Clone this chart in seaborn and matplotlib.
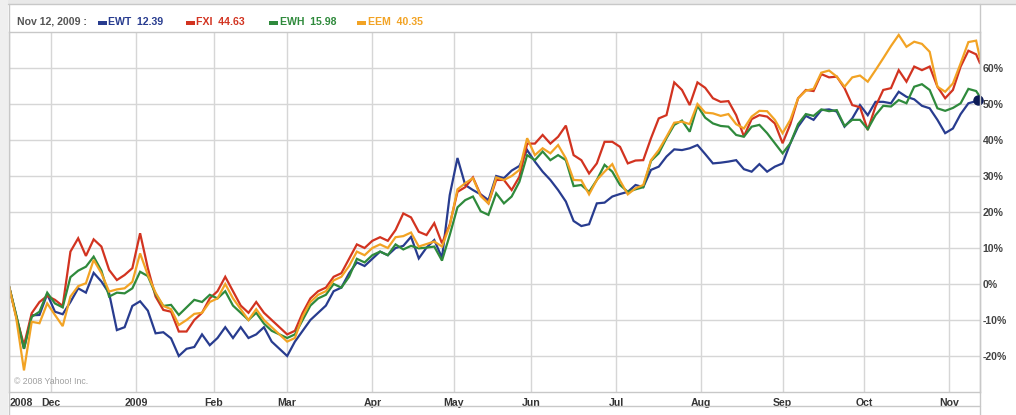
import numpy as np
import pandas as pd
import matplotlib
matplotlib.use("Agg")
import matplotlib.pyplot as plt
import matplotlib.transforms as mtransforms
from matplotlib.lines import Line2D
from matplotlib.patches import Rectangle
import seaborn as sns

# ---------------- data ----------------
# trading-session index (0 = left edge, Nov 2008), sampled every 2 sessions
session = np.r_[np.arange(0, 251, 2), 251]

ewt = [0, -9.0, -18, -8.7, -8.6, -2.8, -7.7, -8.4, -5.0, -1.2, -2.4, 3.1, 0.7, -2.6, -12.8, -12.0, -6.1, -4.8, -7.4, -13.7, -13.4, -15.1, -20.0, -18.0, -17.5,
       -14, -17, -15, -12, -15, -12, -15, -14, -12, -16, -18, -20, -16, -13, -10, -8, -6, -2, -1, 3, 6, 5, 7, 9, 8, 10,
       10.6, 13.1, 7.1, 10.1, 12.2, 7.3, 24.7, 35, 27.5, 26.1, 24.9, 23.3, 30, 29.4, 31.5, 32.8, 37.2, 34, 31.2, 28.9, 26.1, 22.9, 17.5, 16.1, 16.6, 22.4, 22.6, 24.3, 25, 25.6, 27.5, 26.9, 31.7, 32.6, 35.4, 37.4, 37.2, 37.7, 38.6,
       36.1, 33.5, 33.7, 34, 34.4, 31.9, 31.2, 33.3, 31.2, 32.6, 33.5, 39.1, 43.7, 46.7, 45.6, 48.3, 48.5, 47.9, 43.7, 46, 49.7, 46.9, 50.6, 50.6, 50.2, 53.4, 52, 51.3, 49.5, 48.8, 45.6, 41.9, 43.2, 47.2, 50.2, 50.8,
       51.1]
fxi = [0, -9.0, -17, -8.1, -5.0, -3.3, -4.4, -6.1, 9.0, 12.7, 7.8, 12.4, 10.4, 3.9, 1.1, 2.5, 4.4, 14.1, 4.4, -3.5, -7.2, -7.7, -13.2, -13.2, -10.0,
       -8, -4, -2, 2, -2, -6, -8, -5, -8, -10, -12, -14, -13, -8, -4, -2, -1, 2, 3, 7, 11, 10, 12, 13, 12, 15,
       19.6, 18.5, 14.5, 13.6, 16.9, 11.3, 16.5, 25.6, 26.9, 29.6, 24.7, 22.4, 28.9, 28.9, 26.1, 29.8, 39, 39, 41.4, 39, 40.9, 44, 35.8, 34.4, 30.7, 33.5, 39.5, 39.5, 38.1, 33.5, 34.3, 34.4, 40.5, 46, 46.9, 56, 53.9, 49.7, 56,
       54.5, 51.6, 50.6, 50.8, 46.9, 41, 45.8, 46.9, 46.5, 44.6, 39.1, 44.4, 51.6, 53.9, 53.6, 58.3, 57.4, 57.6, 54.4, 49.7, 49.1, 42.8, 49.3, 53.9, 54.4, 59.4, 56.2, 60.4, 59.4, 60.4, 54.8, 51.6, 53.9, 60.4, 64.8, 63.8,
       61.3]
ewh = [0, -8.6, -18, -9.1, -7.7, -2.4, -5.4, -6.5, 1.9, 3.7, 4.8, 7.6, 3.7, -3.5, -2.4, -2.6, -1.2, 3.4, 2.2, -2.8, -6.1, -5.8, -8.6, -6.5, -4.4,
       -5, -3, -4, -2, -6, -8, -10, -8, -11, -13, -14, -15, -14, -10, -6, -4, -3, 0, -1, 2, 7, 6, 8, 9, 8, 11,
       9.6, 10.6, 9.9, 10.1, 10.4, 6.5, 13.6, 21.3, 23.3, 24.3, 20.2, 19.2, 25.2, 22.4, 24.3, 28.4, 35.8, 34.4, 36.8, 34.4, 35.8, 34.4, 27.2, 27.5, 25.6, 28.9, 33.1, 31.2, 27.5, 25.6, 26.3, 26.9, 34.2, 36.3, 40.5, 44.2, 45.4, 42.3, 49.5,
       46.2, 44.6, 43.9, 43.7, 41.4, 40.9, 43.7, 44.2, 41.9, 39.1, 36.3, 39.1, 44.4, 47.2, 46.7, 48.5, 48, 48.3, 43.9, 45.6, 45.6, 43, 46.9, 49.5, 49.3, 51.1, 50.2, 54.8, 55.5, 53.9, 48.8, 48.1, 48.9, 50.2, 54.2, 53.6,
       52]
eem = [0, -9.5, -24, -10.5, -10.9, -5.4, -8.6, -11.7, -3.5, -0.6, 0.2, 6.7, 3.0, -2.1, -1.5, -1.2, 0.6, 8.5, 2.5, -2.4, -6.1, -7.0, -11.4, -10.0, -8.3,
       -8, -5, -4, 0, -4, -7, -10, -7, -10, -12, -14, -16, -15, -9, -5, -3, -2, 1, 2, 5, 9, 8, 10, 11, 10, 13,
       13.3, 14.3, 10.4, 11.1, 11.8, 10.4, 16.2, 26.3, 28, 29.4, 24.4, 22.4, 29.6, 28.9, 30, 31.7, 40.5, 35.8, 37.7, 36.3, 38.6, 34.9, 28.9, 28.8, 24.9, 28.9, 31.2, 33.3, 28.7, 24.9, 26.6, 27.5, 34.4, 37.2, 40.9, 44.8, 45.1, 44.4, 50,
       47.6, 47.4, 46.7, 47.2, 44.4, 43.2, 46.5, 48.1, 48, 45.6, 41.9, 45.6, 51.6, 53.7, 54.2, 58.7, 59.3, 57.6, 54.8, 57.4, 57.9, 56.2, 59.4, 62.7, 66.1, 69.2, 65.9, 67.3, 66.7, 64.5, 54.8, 53.4, 55.7, 61.3, 67.2, 67.6,
       62.7]

tickers = ["EWT", "FXI", "EWH", "EEM"]
last_prices = ["12.39", "44.63", "15.98", "40.35"]
colors = ["#283c8f", "#d23320", "#2f8a3c", "#f2a324"]
header_date = "Nov 12, 2009 :"

month_labels = ["Dec", "2009", "Feb", "Mar", "Apr", "May", "Jun", "Jul", "Aug", "Sep", "Oct", "Nov"]
month_sessions = [11, 33, 53, 72, 94, 115, 135, 157, 179, 200, 221, 243]
start_label = "2008"
y_ticks = [-20, -10, 0, 10, 20, 30, 40, 50, 60]
copyright_text = "© 2008 Yahoo! Inc."

# ---------------- figure ----------------
W, H = 1016, 415
sns.set_theme(style="white")
plt.rcParams["font.family"] = ["Liberation Sans", "DejaVu Sans"]

fig = plt.figure(figsize=(W / 100, H / 100), dpi=100, facecolor="white")

def fx(px):
    return px / W

def fy(py):
    return 1 - py / H

left, right, top, bottom = 8.5, 980, 32, 392
ax = fig.add_axes([fx(left), fy(bottom), fx(right - left), (bottom - top) / H])
ax.set_facecolor("white")

df = pd.DataFrame({
    "session": np.tile(session, len(tickers)),
    "change": np.concatenate([ewt, fxi, ewh, eem]),
    "ticker": np.repeat(tickers, len(session)),
})

sns.lineplot(data=df, x="session", y="change", hue="ticker", hue_order=tickers,
             palette=dict(zip(tickers, colors)), linewidth=1.6, legend=False,
             estimator=None, sort=False, ax=ax)
for ln in ax.lines:
    ln.set_solid_joinstyle("miter")

# end-point marker on EWT
ax.plot([session[-1] - 0.6], [ewt[-1]], marker="o", ms=6.5, color="#0b1a55",
        clip_on=False, zorder=5)

ax.set_xlim(0, 251)
ax.set_ylim(-30, 70)

grid_c = "#d6d6d6"
ax.set_xticks(month_sessions)
ax.set_xticklabels(month_labels, fontsize=7.6, fontweight="bold", color="#333333")
ax.set_yticks(y_ticks)
ax.set_yticklabels([f"{v}%" for v in y_ticks], fontsize=7.6, fontweight="bold", color="#444444")
ax.yaxis.tick_right()
ax.tick_params(axis="x", length=0, pad=4)
ax.tick_params(axis="y", length=0, pad=2)
ax.grid(True, color=grid_c, linewidth=1.0)
ax.set_axisbelow(True)
ax.set_xlabel("")
ax.set_ylabel("")
for sp in ax.spines.values():
    sp.set_color("#c8c8c8")
    sp.set_linewidth(1.0)

# "2008" label at the left edge of the date strip
trans = mtransforms.blended_transform_factory(ax.transAxes, ax.transAxes)
ax.text(0.001, -0.017, start_label, transform=trans, ha="left", va="top",
        fontsize=7.6, fontweight="bold", color="#333333")

# copyright
ax.text(0.006, 0.03, copyright_text, transform=ax.transAxes, ha="left", va="center",
        fontsize=6.3, color="#a0a0a0")

# ---------------- frame decorations ----------------
fig.patches.append(Rectangle((0, fy(4)), 1, 4 / H, transform=fig.transFigure,
                             facecolor="#e9e9e9", edgecolor="none", zorder=0))
fig.patches.append(Rectangle((0, 0), fx(8), 1, transform=fig.transFigure,
                             facecolor="#efefef", edgecolor="none", zorder=0))
frame_c = "#c8c8c8"
fig.lines.append(Line2D([fx(8), 1], [fy(4.5), fy(4.5)], transform=fig.transFigure, color=frame_c, lw=1))
fig.lines.append(Line2D([fx(8.5), fx(8.5)], [0, fy(4.5)], transform=fig.transFigure, color=frame_c, lw=1))
fig.lines.append(Line2D([fx(980), fx(980)], [0, fy(4.5)], transform=fig.transFigure, color=frame_c, lw=1))
fig.lines.append(Line2D([fx(8.5), fx(980)], [fy(406), fy(406)], transform=fig.transFigure, color=frame_c, lw=1))

# ---------------- header legend ----------------
hy = fy(22)
fig.text(fx(17), hy, header_date, ha="left", va="center", fontsize=7.6,
         fontweight="bold", color="#555555")
legend_x = [98, 186, 269, 357]
for x0, t, p, c in zip(legend_x, tickers, last_prices, colors):
    fig.patches.append(Rectangle((fx(x0), fy(25)), fx(9), 3.5 / H, transform=fig.transFigure,
                                 facecolor=c, edgecolor="none"))
    fig.text(fx(x0 + 10.5), hy, f"{t}  {p}", ha="left", va="center", fontsize=7.6,
             fontweight="bold", color=c)

fig.savefig("out.png", dpi=100, facecolor="white")
